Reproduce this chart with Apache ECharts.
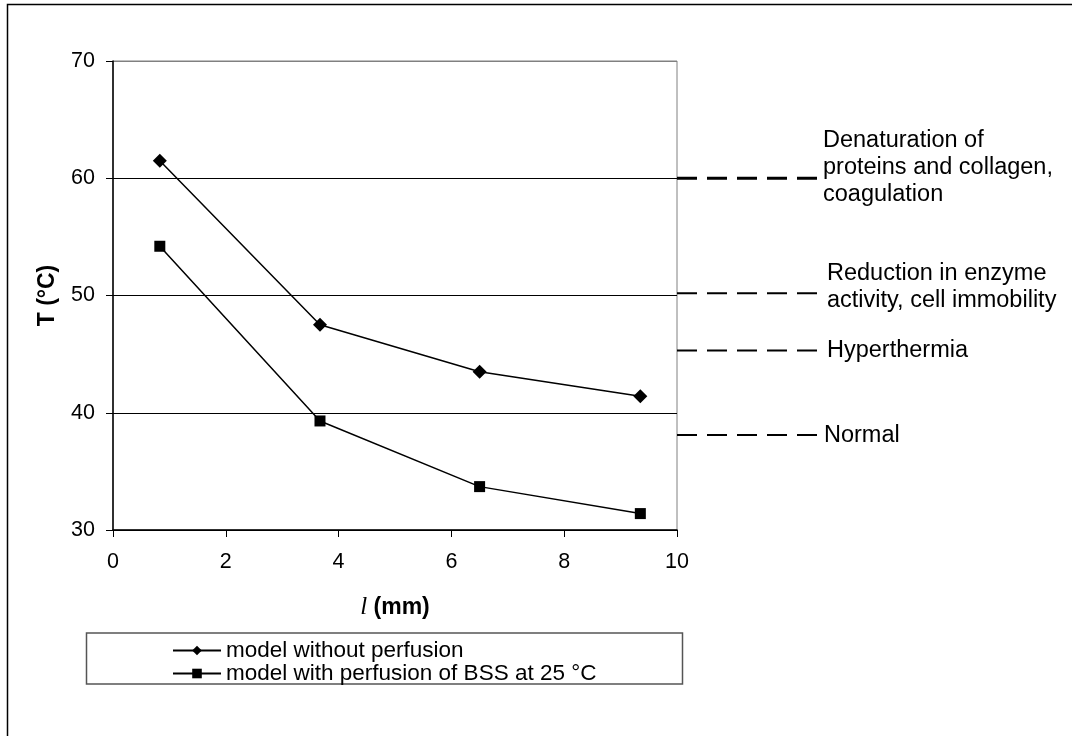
<!DOCTYPE html>
<html>
<head>
<meta charset="utf-8">
<script src="https://cdn.jsdelivr.net/npm/echarts@6/dist/echarts.min.js"></script>
<style>
html,body{margin:0;padding:0;background:#fff;}
#chart{width:1072px;height:736px;}
</style>
</head>
<body>
<div id="chart"></div>
<script>
// ---- data ----
const xValues = [0.83, 3.67, 6.5, 9.35];
const noPerfusion = [61.5, 47.5, 43.5, 41.4];
const withPerfusion = [54.2, 39.3, 33.7, 31.4];
const seriesNames = ['model without perfusion', 'model with perfusion of BSS at 25 °C'];
const yMin = 30, yMax = 70, yStep = 10;
const xMin = 0, xMax = 10, xStep = 2;
const thresholdValues = [60, 50.2, 45.3, 38.1];
const thresholdLabels = [
  'Denaturation of\nproteins and collagen,\ncoagulation',
  'Reduction in enzyme\nactivity, cell immobility',
  'Hyperthermia',
  'Normal'
];

// ---- style ----
const FONT = "'Liberation Sans', Arial, sans-serif";
const FS_TICK = 21.5;
const FS_NOTE = 23.5;
const FS_LEGEND = 22.5;
const FS_TITLE = 23;
const thresholdStyle = [
  {width: 3, distance: 6, offset: [0, -11]},
  {width: 2, distance: 10, offset: [0, -6.5]},
  {width: 2, distance: 10, offset: [0, 0]},
  {width: 2, distance: 7, offset: [0, 0]}
];

const chart = echarts.init(document.getElementById('chart'), null, {renderer: 'canvas'});

const pts = (ys) => xValues.map((x, i) => [x, ys[i]]);

const thresholdSeries = thresholdValues.map((v, i) => ({
  type: 'line',
  xAxisIndex: 1,
  yAxisIndex: 1,
  data: [[0, v], [1, v]],
  symbol: 'none',
  silent: true,
  animation: false,
  lineStyle: {color: '#000', width: thresholdStyle[i].width, type: [20, 10]},
  endLabel: {
    show: true,
    formatter: thresholdLabels[i],
    fontFamily: FONT,
    fontSize: FS_NOTE,
    lineHeight: 27,
    color: '#000',
    distance: thresholdStyle[i].distance,
    offset: thresholdStyle[i].offset,
    align: 'left'
  }
}));

const option = {
  backgroundColor: '#fff',
  animation: false,
  textStyle: {fontFamily: FONT, color: '#000'},
  grid: [
    {left: 113, right: 395, top: 61, bottom: 206, show: true, borderColor: '#808080', borderWidth: 1},
    {left: 677, width: 140, top: 61, bottom: 206, show: false}
  ],
  legend: {
    data: seriesNames,
    orient: 'vertical',
    left: 172,
    top: 639,
    itemWidth: 48,
    itemHeight: 12,
    itemGap: 0,
    itemTextGap: 5,
    padding: 0,
    textStyle: {fontFamily: FONT, fontSize: FS_LEGEND, lineHeight: 21, color: '#000'},
    selectedMode: false
  },
  xAxis: [
    {
      type: 'value', gridIndex: 0, min: xMin, max: xMax, interval: xStep,
      name: '{it|l} {b|(mm)}',
      nameLocation: 'middle', nameGap: 65,
      nameTextStyle: {
        fontFamily: FONT, fontSize: FS_TITLE, color: '#000',
        rich: {
          it: {fontFamily: "'Liberation Serif', 'Times New Roman', serif", fontStyle: 'italic', fontSize: 25, color: '#000'},
          b: {fontFamily: FONT, fontWeight: 'bold', fontSize: FS_TITLE, color: '#000'}
        }
      },
      axisLine: {lineStyle: {color: '#000', width: 1.5}},
      axisTick: {show: true, length: 7, lineStyle: {color: '#000'}},
      axisLabel: {fontFamily: FONT, fontSize: FS_TICK, color: '#000', margin: 21},
      splitLine: {show: false}
    },
    {type: 'value', gridIndex: 1, min: 0, max: 1, show: false}
  ],
  yAxis: [
    {
      type: 'value', gridIndex: 0, min: yMin, max: yMax, interval: yStep,
      name: 'T (°C)',
      nameLocation: 'middle', nameGap: 54, nameRotate: 90,
      nameTextStyle: {fontFamily: FONT, fontSize: FS_TITLE, fontWeight: 'bold', color: '#000'},
      axisLine: {show: true, lineStyle: {color: '#000', width: 1.5}},
      axisTick: {show: true, length: 7, lineStyle: {color: '#000'}},
      axisLabel: {fontFamily: FONT, fontSize: FS_TICK, color: '#000', margin: 18},
      splitLine: {show: true, lineStyle: {color: ['#000', '#000', '#000', '#000', '#808080'], width: 1}}
    },
    {type: 'value', gridIndex: 1, min: yMin, max: yMax, show: false}
  ],
  series: [
    {
      name: seriesNames[0],
      type: 'line',
      data: pts(noPerfusion),
      symbol: 'diamond',
      symbolSize: 14,
      itemStyle: {color: '#000'},
      lineStyle: {color: '#000', width: 1.5}
    },
    {
      name: seriesNames[1],
      type: 'line',
      data: pts(withPerfusion),
      symbol: 'rect',
      symbolSize: 11,
      itemStyle: {color: '#000'},
      lineStyle: {color: '#000', width: 1.5}
    }
  ].concat(thresholdSeries),
  graphic: [
    {
      type: 'polyline',
      shape: {points: [[7.5, 736], [7.5, 4.5], [1072, 4.5]]},
      style: {stroke: '#000', lineWidth: 1.5, fill: null},
      silent: true
    },
    {
      type: 'rect',
      shape: {x: 86.5, y: 633, width: 596, height: 51},
      style: {stroke: '#555', lineWidth: 1.5, fill: null},
      silent: true
    }
  ]
};

chart.setOption(option);
</script>
</body>
</html>
